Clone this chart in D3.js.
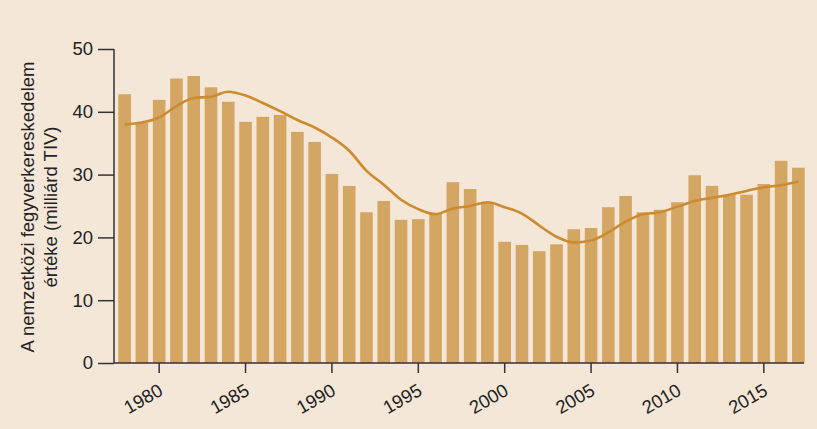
<!DOCTYPE html>
<html><head><meta charset="utf-8">
<script src="https://cdn.jsdelivr.net/npm/d3@7/dist/d3.min.js"></script>
<style>
html,body{margin:0;padding:0;background:#F4E7D7;}
svg{display:block;}
text{font-family:"Liberation Sans",Arial,sans-serif;fill:#222;}
</style></head><body>
<svg id="c" width="817" height="429"></svg>
<script>
const years = d3.range(1978, 2018);
const values = [42.8,38.2,41.9,45.3,45.7,43.9,41.6,38.4,39.2,39.5,36.8,35.2,30.1,28.2,24.0,25.8,22.8,22.9,23.8,28.8,27.7,25.5,19.3,18.8,17.8,18.9,21.3,21.5,24.8,26.6,24.0,24.4,25.6,29.9,28.2,26.8,26.8,28.5,32.2,31.1];
const trend = [38.0,38.3,39.1,40.9,42.2,42.4,43.2,42.6,41.4,40.1,38.7,37.5,35.9,33.8,30.6,28.4,26.0,24.5,23.7,24.6,25.0,25.6,24.8,23.8,21.9,20.1,19.2,19.5,20.8,22.5,23.7,24.0,24.9,25.8,26.3,26.8,27.4,28.0,28.3,28.9];
const yTicks = [0,10,20,30,40,50];
const xTickYears = [1980,1985,1990,1995,2000,2005,2010,2015];
const yTitle = ["A nemzetközi fegyverkereskedelem","értéke (milliárd TIV)"];

const svg = d3.select("#c");
const x = d3.scaleBand().domain(years).range([114, 809]).paddingInner(0.27).paddingOuter(0.25);
const y = d3.scaleLinear().domain([0,50]).range([363, 49]);

svg.append("g").selectAll("rect").data(years).join("rect")
  .attr("x", d => x(d)).attr("width", x.bandwidth())
  .attr("y", (d,i) => y(values[i])).attr("height", (d,i) => y(0) - y(values[i]))
  .attr("fill", "#D4A664");

const line = d3.line().x((d,i) => x(years[i]) + x.bandwidth()/2).y(d => y(d)).curve(d3.curveMonotoneX);
svg.append("path").attr("d", line(trend)).attr("fill","none").attr("stroke","#CD8A2E").attr("stroke-width",2.6);

// y axis
const ya = svg.append("g").attr("transform","translate(114,0)")
  .call(d3.axisLeft(y).tickValues(yTicks).tickSize(16).tickPadding(5));
ya.select(".domain").attr("stroke","#333").attr("stroke-width",1.5).attr("d","M0,"+y(50)+"V"+y(0));
ya.selectAll(".tick line").attr("stroke","#333").attr("stroke-width",1.5);
ya.selectAll("text").style("font-size","18.5px").attr("fill","#222");

// x axis
const xa = svg.append("g").attr("transform","translate(0,363)")
  .call(d3.axisBottom(x).tickValues(xTickYears).tickSize(10).tickSizeOuter(0));
xa.select(".domain").attr("stroke","#333").attr("stroke-width",1.5).attr("d","M114,0H804");
xa.selectAll(".tick line").attr("stroke","#333").attr("stroke-width",1.5);
xa.selectAll("text").style("font-size","18.5px").attr("fill","#222")
  .attr("text-anchor","end").attr("dy",0).attr("y",0)
  .attr("transform","translate(5,31) rotate(-30)");

// y title
const t = svg.append("text").attr("transform","translate(0,207) rotate(-90)")
  .attr("text-anchor","middle").style("font-size","18.5px");
t.append("tspan").attr("x",0).attr("y",34).text(yTitle[0]);
t.append("tspan").attr("x",0).attr("y",57).text(yTitle[1]);
</script></body></html>
